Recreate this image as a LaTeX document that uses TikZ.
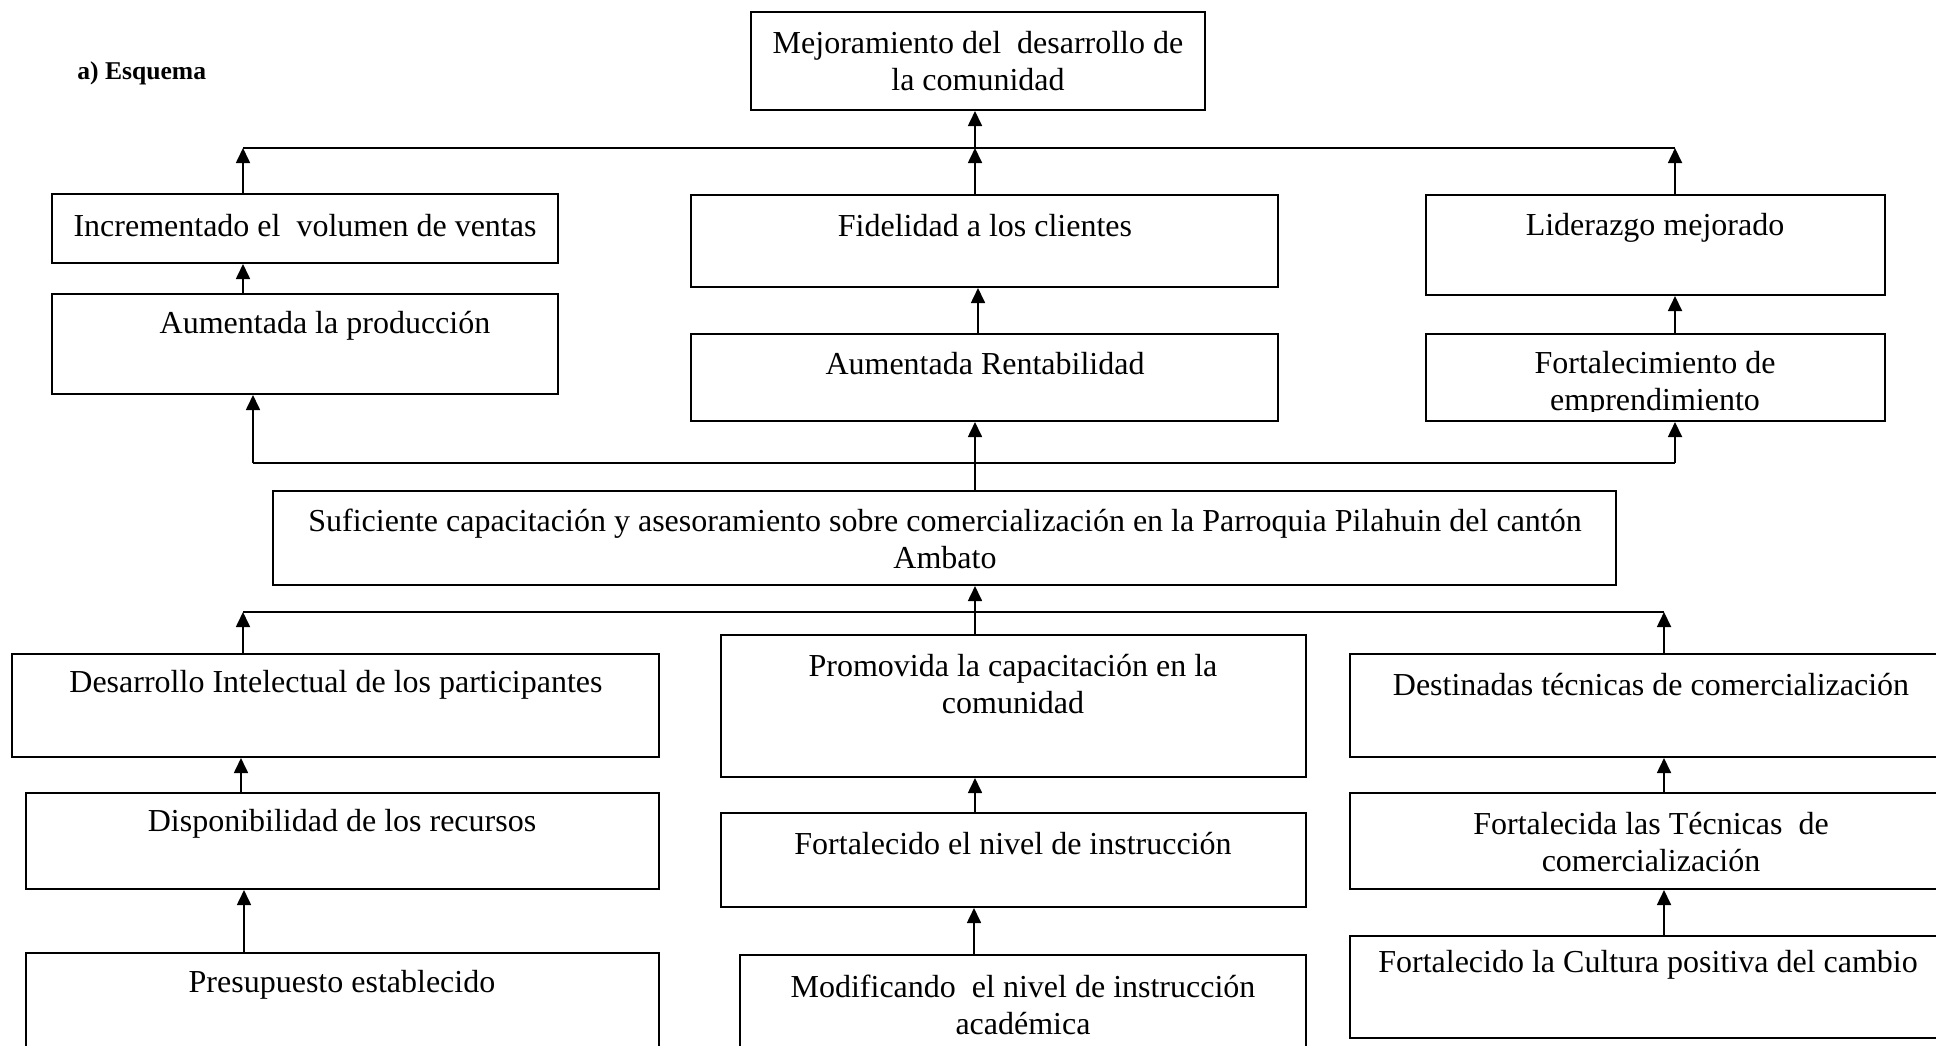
\documentclass[tikz,border=0pt]{standalone}
\usepackage{fontspec}
\setmainfont{Liberation Serif}
\usetikzlibrary{arrows.meta,fit}
\begin{document}
\begin{tikzpicture}[x=0.5pt,y=-0.5pt,
  box/.style={draw, line width=1pt, inner sep=0pt},
  txt/.style={font=\fontsize{16}{18.5}\selectfont, align=center, inner sep=0pt},
  link/.style={line width=0.85pt},
  arr/.style={line width=0.85pt, -{Triangle[length=7.5pt,width=7pt]}},
]
\clip (0,0) rectangle (1936,1045);
\fill[white] (0,0) rectangle (1936,1045);

% title
\node[font=\bfseries\fontsize{12.8}{15}\selectfont, anchor=west, inner sep=0pt] (title) at (77,73) {a) Esquema};

% boxes
\node[box, fit={(751,12)(1205,110)}] (top) {};
\node[box, fit={(52,194)(558,263)}] (inc) {};
\node[box, fit={(691,195)(1278,287)}] (fid) {};
\node[box, fit={(1426,195)(1885,295)}] (lid) {};
\node[box, fit={(52,294)(558,394)}] (prod) {};
\node[box, fit={(691,334)(1278,421)}] (rent) {};
\node[box, fit={(1426,334)(1885,421)}] (emp) {};
\node[box, fit={(273,491)(1616,585)}] (suf) {};
\node[box, fit={(12,654)(659,757)}] (des) {};
\node[box, fit={(721,635)(1306,777)}] (pro) {};
\node[box, fit={(1350,654)(1960,757)}] (dst) {};
\node[box, fit={(26,793)(659,889)}] (disp) {};
\node[box, fit={(721,813)(1306,907)}] (fniv) {};
\node[box, fit={(1350,793)(1960,889)}] (ftec) {};
\node[box, fit={(26,953)(659,1070)}] (pres) {};
\node[box, fit={(740,955)(1306,1070)}] (mod) {};
\node[box, fit={(1350,936)(1960,1038)}] (cult) {};

% texts
\node[txt] (top-t) at (978,61) {Mejoramiento del\ \ desarrollo de\\la comunidad};
\node[txt] (inc-t) at (305,226) {Incrementado el\ \ volumen de ventas};
\node[txt] (fid-t) at (985,226) {Fidelidad a los clientes};
\node[txt] (lid-t) at (1655,228) {Liderazgo mejorado};
\node[txt] (prod-t) at (325,326) {Aumentada la producción};
\node[txt] (rent-t) at (985,364) {Aumentada Rentabilidad};
\begin{scope}
\clip (1426,334) rectangle (1885,411);
\node[txt] (emp-t) at (1655,384) {Fortalecimiento de\\emprendimiento};
\end{scope}
\node[txt] (suf-t) at (945,539) {Suficiente capacitación y asesoramiento sobre comercialización en la Parroquia Pilahuin del cantón\\Ambato};
\node[txt] (des-t) at (336,685) {Desarrollo Intelectual de los participantes};
\node[txt] (pro-t) at (1013,684) {Promovida la capacitación en la\\comunidad};
\node[txt] (dst-t) at (1651,685) {Destinadas técnicas de comercialización};
\node[txt] (disp-t) at (342,824) {Disponibilidad de los recursos};
\node[txt] (fniv-t) at (1013,844) {Fortalecido el nivel de instrucción};
\node[txt] (ftec-t) at (1651,842) {Fortalecida las Técnicas\ \ de\\comercialización};
\node[txt] (pres-t) at (342,985) {Presupuesto establecido};
\node[txt] (mod-t) at (1023,1005) {Modificando\ \ el nivel de instrucción\\académica};
\node[txt] (cult-t) at (1648,965) {Fortalecido la Cultura positiva del cambio};

% column coordinates
\coordinate (c241) at (241,0);
\coordinate (c244) at (244,0);
\coordinate (c974) at (974,0);
\coordinate (c978) at (978,0);

% top bus
\coordinate (b1L) at (243,148);
\coordinate (b1M) at (975,148);
\coordinate (b1R) at (1675,148);
\draw[link] (b1L) -- (b1R);
\draw[arr] (b1M) -- (top.south -| b1M);
\draw[arr] (inc.north -| b1L) -- (b1L);
\draw[arr] (fid.north -| b1M) -- (b1M);
\draw[arr] (lid.north -| b1R) -- (b1R);
\draw[arr] (prod.north -| b1L) -- (inc.south -| b1L);
\draw[arr] (rent.north -| c978) -- (fid.south -| c978);
\draw[arr] (emp.north -| b1R) -- (lid.south -| b1R);

% middle bus
\coordinate (b2L) at (253,463);
\coordinate (b2M) at (975,463);
\coordinate (b2R) at (1675,463);
\draw[link] (b2L) -- (b2R);
\draw[arr] (b2L) -- (prod.south -| b2L);
\draw[arr] (b2M) -- (rent.south -| b2M);
\draw[arr] (b2R) -- (emp.south -| b2R);
\draw[link] (suf.north -| b2M) -- (b2M);

% lower bus
\coordinate (b3L) at (243,612);
\coordinate (b3M) at (975,612);
\coordinate (b3R) at (1664,612);
\draw[link] (b3L) -- (b3R);
\draw[arr] (b3M) -- (suf.south -| b3M);
\draw[arr] (des.north -| b3L) -- (b3L);
\draw[link] (pro.north -| b3M) -- (b3M);
\draw[arr] (dst.north -| b3R) -- (b3R);
\draw[arr] (disp.north -| c241) -- (des.south -| c241);
\draw[arr] (pres.north -| c244) -- (disp.south -| c244);
\draw[arr] (fniv.north -| b3M) -- (pro.south -| b3M);
\draw[arr] (mod.north -| c974) -- (fniv.south -| c974);
\draw[arr] (ftec.north -| b3R) -- (dst.south -| b3R);
\draw[arr] (cult.north -| b3R) -- (ftec.south -| b3R);
\end{tikzpicture}
\end{document}
